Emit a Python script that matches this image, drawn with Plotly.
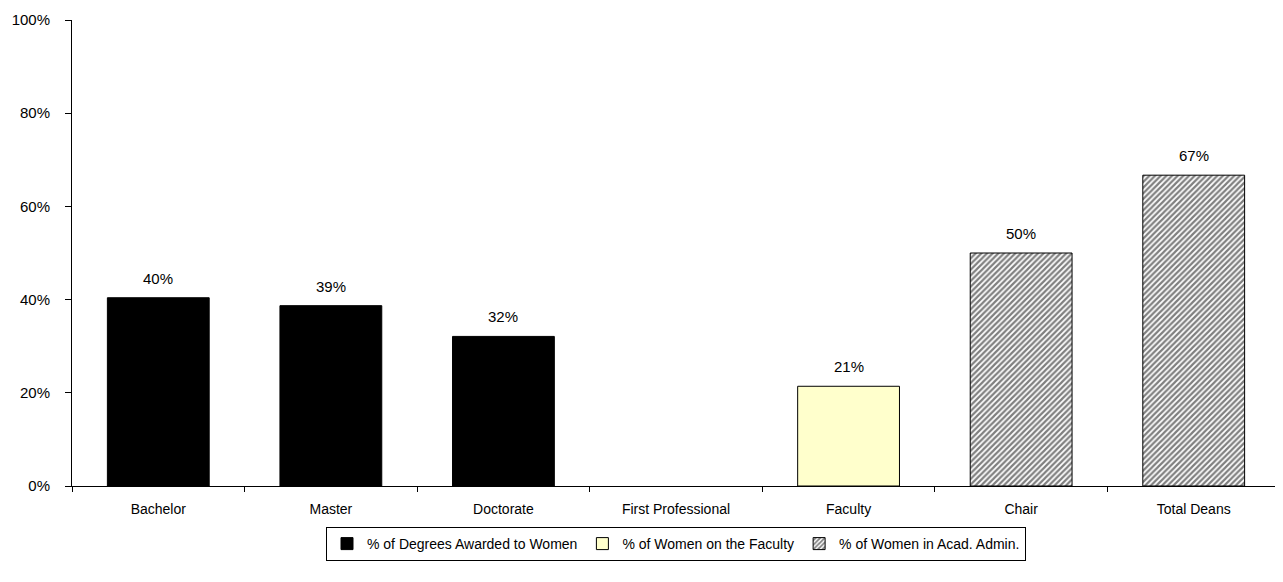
import plotly.graph_objects as go

categories = ["Bachelor", "Master", "Doctorate", "First Professional", "Faculty", "Chair", "Total Deans"]
degrees = [0.404, 0.387, 0.321, None, None, None, None]
faculty = [None, None, None, None, 0.214, None, None]
admin = [None, None, None, None, None, 0.50, 0.667]
series_names = ["% of Degrees Awarded to Women", "% of Women on the Faculty", "% of Women in Acad. Admin."]

font_family = "Liberation Sans, Arial, sans-serif"
label_font = dict(size=15, color="black", family=font_family)

fig = go.Figure()
fig.add_trace(go.Bar(
    x=categories, y=degrees, name=series_names[0],
    marker=dict(color="black", line=dict(color="black", width=1)),
))
fig.add_trace(go.Bar(
    x=categories, y=faculty, name=series_names[1],
    marker=dict(color="#FFFFCC", line=dict(color="black", width=1)),
))
fig.add_trace(go.Bar(
    x=categories, y=admin, name=series_names[2],
    marker=dict(color="white", line=dict(color="black", width=1),
                pattern=dict(shape="/", fgcolor="black", bgcolor="white", size=4, solidity=0.55)),
))

# data labels above bars
for series in (degrees, faculty, admin):
    for cat, val in zip(categories, series):
        if val is None:
            continue
        fig.add_annotation(x=cat, y=val, text=f"{val:.0%}", showarrow=False,
                           yanchor="bottom", yshift=9, font=label_font)

fig.update_layout(
    width=1275, height=574,
    barmode="overlay", bargap=0.41,
    plot_bgcolor="white", paper_bgcolor="white",
    font=dict(family=font_family, size=14, color="black"),
    margin=dict(l=64, r=3, t=9, b=96),
    showlegend=True,
    legend=dict(orientation="h", x=0.5, xanchor="center", y=-0.088, yanchor="top",
                bordercolor="black", borderwidth=1, font=dict(size=14),
                itemwidth=30, tracegroupgap=0),
    xaxis=dict(showline=True, linecolor="black", linewidth=1, ticks="outside",
               tickson="boundaries", ticklen=5, tickcolor="black",
               ticklabelstandoff=10,
               tickfont=dict(size=14), showgrid=False),
    yaxis=dict(range=[0, 1], dtick=0.2, tickformat=".0%", showline=True, linecolor="black",
               linewidth=1, ticks="outside", ticklen=6, tickcolor="black",
               ticklabelstandoff=12,
               showgrid=False, zeroline=False, tickfont=dict(size=15)),
)

fig.write_html("out.html")
